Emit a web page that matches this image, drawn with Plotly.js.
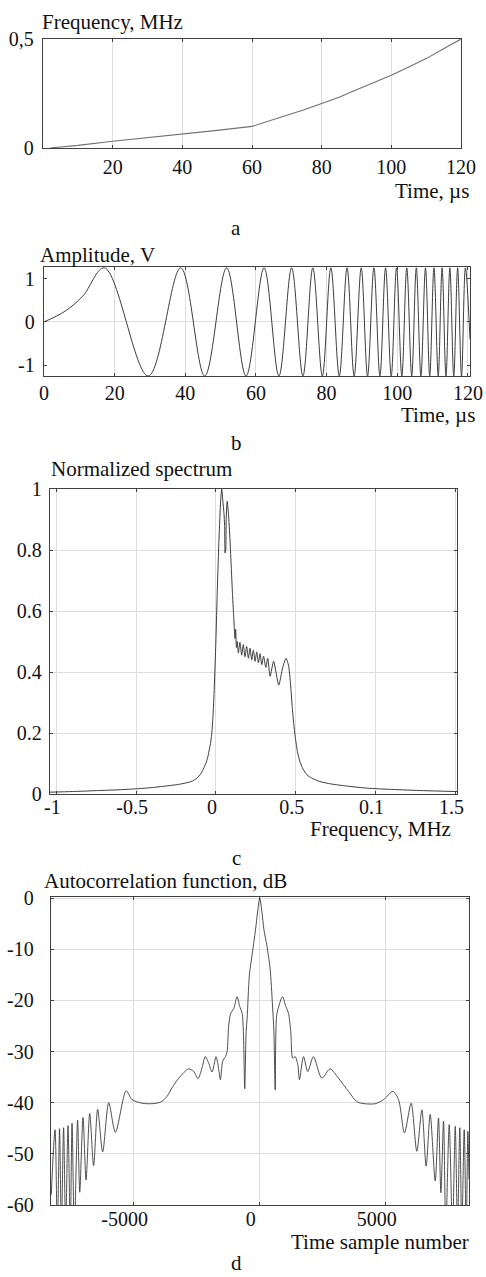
<!DOCTYPE html>
<html><head><meta charset="utf-8">
<script src="https://cdn.plot.ly/plotly-3.0.1.min.js"></script>
<style>html,body{margin:0;padding:0;background:#fff}#chart{width:486px;height:1277px}</style>
</head><body><div id="chart"></div>
<script>
// (a) instantaneous frequency
const freqTime = [2, 10, 20, 30, 40, 50, 60, 65, 70, 75, 80, 85, 90, 95, 100, 105, 110, 115, 120];
const freqMHz  = [0, 0.012, 0.031, 0.047, 0.064, 0.081, 0.099, 0.123, 0.150, 0.175, 0.203, 0.233, 0.267, 0.300, 0.334, 0.372, 0.410, 0.455, 0.5];
const freqTicks = [20, 40, 60, 80, 100, 120];

// (b) chirp signal: start, peaks and troughs
const ampTime = [0, 6, 11, 17.1, 29.5, 38.7, 45.5, 51.7, 57.2, 62.3, 66.5, 70.1, 73.3, 76.1, 78.8, 81.2, 83.6, 85.8, 87.8, 89.8, 91.6, 93.4, 95.1, 96.7, 98.3, 99.8, 101.3, 102.7, 104.1, 105.4, 106.7, 108.0, 109.2, 110.4, 111.6, 112.7, 113.8, 114.9, 116.0, 117.1, 118.2, 119.3, 120.6];
const ampVolt = [0, 0.25, 0.6, 1.25, -1.25, 1.25, -1.25, 1.25, -1.25, 1.25, -1.25, 1.25, -1.25, 1.25, -1.25, 1.25, -1.25, 1.25, -1.25, 1.25, -1.25, 1.25, -1.25, 1.25, -1.25, 1.25, -1.25, 1.25, -1.25, 1.25, -1.25, 1.25, -1.25, 1.25, -1.25, 1.25, -1.25, 1.25, -1.25, 1.25, -1.25, 1.25, -0.4];
const ampTicks = [0, 20, 40, 60, 80, 100, 120];

// (c) normalized spectrum
const specFreq = [-1.04, -0.9, -0.75, -0.6, -0.5, -0.4, -0.3, -0.24, -0.19, -0.15, -0.12, -0.095, -0.075, -0.06, -0.048, -0.035, -0.027, -0.02, -0.0125, -0.002, 0.008, 0.019, 0.029, 0.036, 0.043, 0.050, 0.054, 0.057, 0.061, 0.064, 0.070, 0.078, 0.088, 0.096, 0.103, 0.109, 0.114, 0.119, 0.123, 0.128, 0.133, 0.140, 0.150, 0.161, 0.171, 0.182, 0.192, 0.203, 0.213, 0.224, 0.234, 0.245, 0.255, 0.266, 0.276, 0.287, 0.298, 0.312, 0.324, 0.339, 0.361, 0.393, 0.418, 0.439, 0.455, 0.467, 0.477, 0.487, 0.497, 0.51, 0.525, 0.545, 0.57, 0.60, 0.65, 0.72, 0.82, 0.95, 1.1, 1.3, 1.51];
const specNorm = [0.006, 0.008, 0.011, 0.014, 0.017, 0.021, 0.027, 0.031, 0.036, 0.042, 0.052, 0.066, 0.087, 0.105, 0.129, 0.165, 0.195, 0.245, 0.326, 0.479, 0.665, 0.839, 0.96, 1.0, 0.96, 0.92, 0.88, 0.79, 0.80, 0.90, 0.96, 0.92, 0.83, 0.74, 0.66, 0.60, 0.55, 0.51, 0.54, 0.48, 0.50, 0.462, 0.497, 0.455, 0.490, 0.450, 0.484, 0.445, 0.478, 0.440, 0.472, 0.435, 0.466, 0.430, 0.460, 0.424, 0.452, 0.415, 0.445, 0.386, 0.435, 0.357, 0.415, 0.445, 0.42, 0.36, 0.29, 0.23, 0.185, 0.14, 0.108, 0.082, 0.063, 0.052, 0.041, 0.033, 0.026, 0.019, 0.015, 0.011, 0.008];
const specTicks = [-1, -0.5, 0, 0.5, 1, 1.5];
const specTickText = ['-1', '-0.5', '0', '0.5', '0.1', '1.5'];
const specYTicks = [0, 0.2, 0.4, 0.6, 0.8, 1];

// (d) autocorrelation function, dB
const acfSample = [-8270, -8120, -8030, -7940, -7870, -7780, -7700, -7605, -7515, -7445, -7355, -7225, -7140, -7010, -6890, -6745, -6590, -6430, -6230, -5990, -5725, -5300, -5065, -4670, -4270, -3940, -3680, -3480, -3210, -2820, -2620, -2450, -2290, -2160, -2025, -1890, -1735, -1655, -1560, -1470, -1360, -1295, -1230, -1150, -1030, -900, -795, -700, -650, -595, -540, -500, -410, -300, -170, -80, 0, 80, 170, 280, 410, 505, 560, 612, 670, 770, 900, 1035, 1140, 1230, 1310, 1405, 1510, 1575, 1735, 1905, 2130, 2460, 2790, 3120, 3520, 3890, 4580, 4910, 5280, 5505, 5740, 6005, 6230, 6430, 6600, 6760, 6960, 7090, 7185, 7290, 7380, 7515, 7645, 7755, 7845, 7935, 8015, 8110, 8190, 8255, 8300];
const acfDb = [-58, -45.3, -65, -45.1, -65, -44.9, -65, -44.5, -65, -44.0, -65, -43.4, -57.5, -42.9, -55.1, -42.1, -52.3, -41.3, -49.6, -40.0, -45.8, -37.7, -39.4, -40.1, -40.2, -39.9, -38.8, -37.1, -35.2, -33.4, -33.9, -35.3, -33.2, -31.0, -32.3, -34.0, -31.0, -32.6, -35.5, -31.9, -31.0, -30.0, -24.8, -22.5, -21.6, -19.3, -21.2, -22.5, -26.1, -37.3, -26.1, -23.5, -15.0, -11.0, -6.3, -2.5, 0, -2.5, -6.3, -9.2, -13.8, -20.9, -26.0, -37.5, -23.0, -20.9, -19.3, -21.2, -22.5, -26.1, -31.3, -31.0, -32.6, -35.5, -31.0, -33.9, -31.0, -35.2, -33.4, -35.2, -37.8, -39.9, -40.2, -39.4, -37.8, -39.4, -45.9, -40.1, -49.5, -41.4, -52.4, -42.3, -55.3, -43.0, -57.6, -43.6, -65, -44.3, -65, -44.6, -65, -44.9, -65, -45.3, -65, -45.6, -55];
const acfTicks = [-5000, 0, 5000];
const acfYTicks = [-60, -50, -40, -30, -20, -10, 0];

const W = 486, H = 1277;
const fx = p => p / W;
const fy = p => 1 - p / H;
const FONT = '"Liberation Serif", "Times New Roman", Times, serif';
const lineCol = '#3c3c3c';

function ax(extra) {
  return Object.assign({
    showline: true, mirror: 'ticks', linecolor: '#404040', linewidth: 1.3,
    ticks: 'inside', ticklen: 3, tickcolor: '#404040',
    showgrid: true, gridcolor: '#dedede', gridwidth: 1, zeroline: false,
    tickfont: {family: FONT, size: 20, color: '#111'}, fixedrange: true
  }, extra);
}

const traces = [
  {x: freqTime, y: freqMHz, xaxis: 'x', yaxis: 'y', mode: 'lines', line: {color: '#707070', width: 1.1}},
  {x: ampTime, y: ampVolt, xaxis: 'x2', yaxis: 'y2', mode: 'lines', line: {color: lineCol, width: 1, shape: 'spline', smoothing: 1}},
  {x: specFreq, y: specNorm, xaxis: 'x3', yaxis: 'y3', mode: 'lines', line: {color: lineCol, width: 1, shape: 'spline', smoothing: 0.6}},
  {x: acfSample, y: acfDb, xaxis: 'x4', yaxis: 'y4', mode: 'lines', line: {color: lineCol, width: 0.9, shape: 'spline', smoothing: 0.8}}
];

function ann(text, x, y, xanchor) {
  return {text: text, xref: 'paper', yref: 'paper', x: fx(x), y: fy(y), xanchor: xanchor, yanchor: 'middle',
          showarrow: false, font: {family: FONT, size: 21, color: '#111'}};
}

const layout = {
  width: W, height: H, margin: {l: 0, r: 0, t: 0, b: 0},
  paper_bgcolor: '#fff', plot_bgcolor: '#fff', showlegend: false,
  font: {family: FONT, size: 20, color: '#111'},
  xaxis: ax({domain: [fx(43), fx(461)], range: [0, 120], tickvals: freqTicks, ticktext: freqTicks.map(String), anchor: 'y', ticklabelstandoff: 1}),
  yaxis: ax({domain: [fy(148), fy(39)], range: [0, 0.5], tickvals: [0, 0.5], ticktext: ['0', '0,5'], showgrid: false, anchor: 'x', ticklabelstandoff: 4}),
  xaxis2: ax({domain: [fx(44), fx(470)], range: [0, 120.6], tickvals: ampTicks, ticktext: ampTicks.map(String), anchor: 'y2', ticklabelstandoff: -1}),
  yaxis2: ax({domain: [fy(376), fy(267)], range: [-1.25, 1.27], tickvals: [-1, 0, 1], ticktext: ['-1', '0', '1'], showgrid: false, zeroline: true, zerolinecolor: '#e2e2e2', zerolinewidth: 1, anchor: 'x2', ticklabelstandoff: 4}),
  xaxis3: ax({domain: [fx(50), fx(457)], range: [-1.04, 1.51], tickvals: specTicks, ticktext: specTickText, anchor: 'y3', ticklabelstandoff: -5, ticklabelshift: -4}),
  yaxis3: ax({domain: [fy(794), fy(489)], range: [0, 1.0], tickvals: specYTicks, ticktext: specYTicks.map(String), anchor: 'x3', ticklabelstandoff: 3}),
  xaxis4: ax({domain: [fx(51), fx(469)], range: [-8280, 8300], tickvals: acfTicks, ticktext: acfTicks.map(String), anchor: 'y4', ticklabelstandoff: -4, ticklabelshift: -9}),
  yaxis4: ax({domain: [fy(1205), fy(897)], range: [-60, 0.2], tickvals: acfYTicks, ticktext: acfYTicks.map(String), anchor: 'x4', ticklabelstandoff: 12}),
  annotations: [
    ann('Frequency, MHz', 40, 22, 'left'),
    ann('Time, µs', 471, 191, 'right'),
    ann('a', 236, 228, 'center'),
    ann('Amplitude, V', 38, 255, 'left'),
    ann('Time, µs', 477, 415, 'right'),
    ann('b', 236, 443, 'center'),
    ann('Normalized spectrum', 49, 469, 'left'),
    ann('Frequency, MHz', 453, 829, 'right'),
    ann('c', 236, 858, 'center'),
    ann('Autocorrelation function, dB', 42, 881, 'left'),
    ann('Time sample number', 471, 1242, 'right'),
    ann('d', 236, 1263, 'center')
  ]
};

Plotly.newPlot('chart', traces, layout, {staticPlot: true, displayModeBar: false});
</script></body></html>
